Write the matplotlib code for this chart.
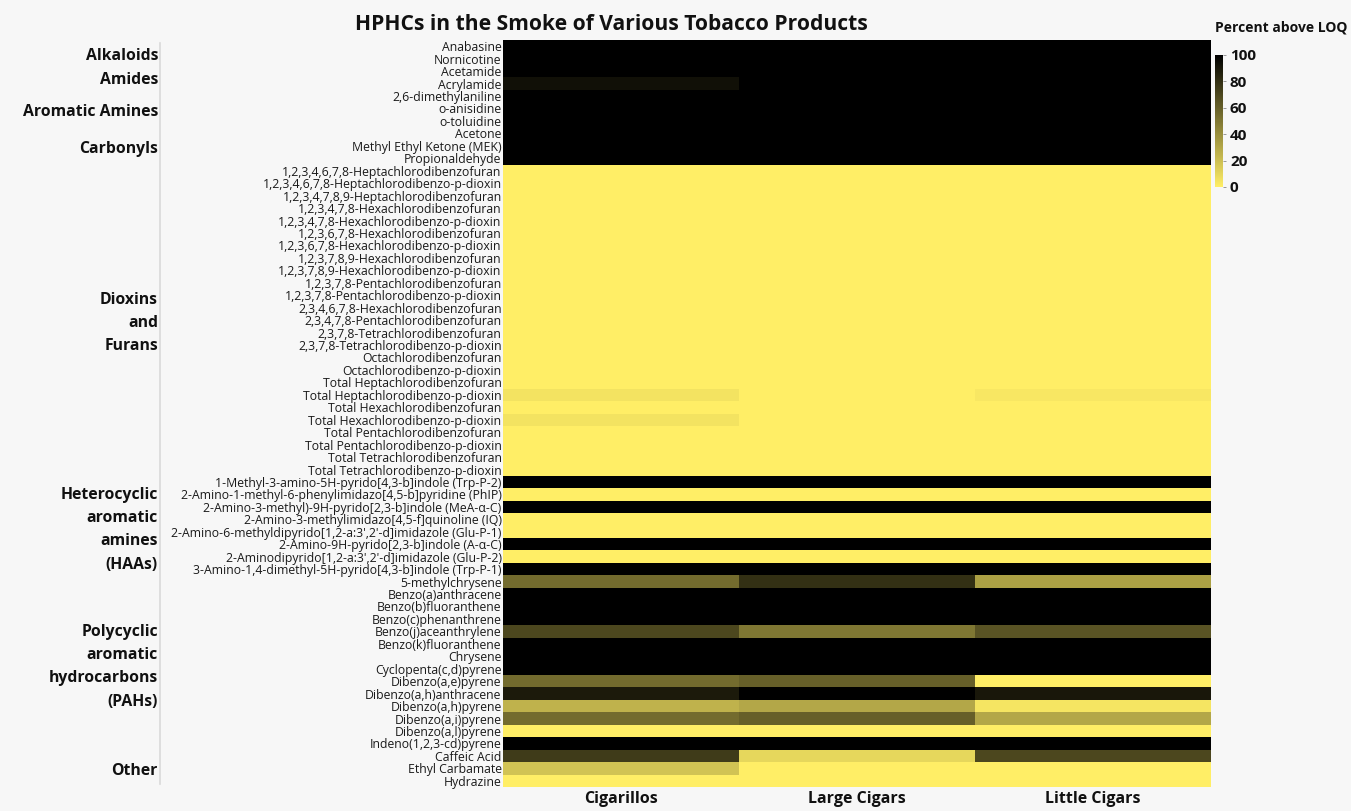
import numpy as np
import matplotlib
matplotlib.use("Agg")
import matplotlib.pyplot as plt
from matplotlib.colors import LinearSegmentedColormap

plt.rcParams['font.family'] = ['Open Sans', 'DejaVu Sans']

products = ["Cigarillos", "Large Cigars", "Little Cigars"]

groups = [
    ("Alkaloids", ["Anabasine", "Nornicotine"]),
    ("Amides", ["Acetamide", "Acrylamide"]),
    ("Aromatic Amines", ["2,6-dimethylaniline", "o-anisidine", "o-toluidine"]),
    ("Carbonyls", ["Acetone", "Methyl Ethyl Ketone (MEK)", "Propionaldehyde"]),
    ("Dioxins\nand\nFurans", [
        "1,2,3,4,6,7,8-Heptachlorodibenzofuran",
        "1,2,3,4,6,7,8-Heptachlorodibenzo-p-dioxin",
        "1,2,3,4,7,8,9-Heptachlorodibenzofuran",
        "1,2,3,4,7,8-Hexachlorodibenzofuran",
        "1,2,3,4,7,8-Hexachlorodibenzo-p-dioxin",
        "1,2,3,6,7,8-Hexachlorodibenzofuran",
        "1,2,3,6,7,8-Hexachlorodibenzo-p-dioxin",
        "1,2,3,7,8,9-Hexachlorodibenzofuran",
        "1,2,3,7,8,9-Hexachlorodibenzo-p-dioxin",
        "1,2,3,7,8-Pentachlorodibenzofuran",
        "1,2,3,7,8-Pentachlorodibenzo-p-dioxin",
        "2,3,4,6,7,8-Hexachlorodibenzofuran",
        "2,3,4,7,8-Pentachlorodibenzofuran",
        "2,3,7,8-Tetrachlorodibenzofuran",
        "2,3,7,8-Tetrachlorodibenzo-p-dioxin",
        "Octachlorodibenzofuran",
        "Octachlorodibenzo-p-dioxin",
        "Total Heptachlorodibenzofuran",
        "Total Heptachlorodibenzo-p-dioxin",
        "Total Hexachlorodibenzofuran",
        "Total Hexachlorodibenzo-p-dioxin",
        "Total Pentachlorodibenzofuran",
        "Total Pentachlorodibenzo-p-dioxin",
        "Total Tetrachlorodibenzofuran",
        "Total Tetrachlorodibenzo-p-dioxin",
    ]),
    ("Heterocyclic\naromatic\namines\n(HAAs)", [
        "1-Methyl-3-amino-5H-pyrido[4,3-b]indole (Trp-P-2)",
        "2-Amino-1-methyl-6-phenylimidazo[4,5-b]pyridine (PhIP)",
        "2-Amino-3-methyl)-9H-pyrido[2,3-b]indole (MeA-α-C)",
        "2-Amino-3-methylimidazo[4,5-f]quinoline (IQ)",
        "2-Amino-6-methyldipyrido[1,2-a:3',2'-d]imidazole (Glu-P-1)",
        "2-Amino-9H-pyrido[2,3-b]indole (A-α-C)",
        "2-Aminodipyrido[1,2-a:3',2'-d]imidazole (Glu-P-2)",
        "3-Amino-1,4-dimethyl-5H-pyrido[4,3-b]indole (Trp-P-1)",
    ]),
    ("Polycyclic\naromatic\nhydrocarbons\n(PAHs)", [
        "5-methylchrysene", "Benzo(a)anthracene", "Benzo(b)fluoranthene",
        "Benzo(c)phenanthrene", "Benzo(j)aceanthrylene", "Benzo(k)fluoranthene",
        "Chrysene", "Cyclopenta(c,d)pyrene", "Dibenzo(a,e)pyrene",
        "Dibenzo(a,h)anthracene", "Dibenzo(a,h)pyrene", "Dibenzo(a,i)pyrene",
        "Dibenzo(a,l)pyrene", "Indeno(1,2,3-cd)pyrene",
    ]),
    ("Other", ["Caffeic Acid", "Ethyl Carbamate", "Hydrazine"]),
]

# Percent of samples above LOQ: columns = Cigarillos, Large Cigars, Little Cigars
alkaloids = [[100, 100, 100], [100, 100, 100]]
amides = [[100, 100, 100], [93, 100, 100]]
aromatic_amines = [[100, 100, 100]] * 3
carbonyls = [[100, 100, 100]] * 3
dioxins = [[0, 0, 0] for _ in range(25)]
dioxins[18] = [5, 0, 3]   # Total Heptachlorodibenzo-p-dioxin
dioxins[20] = [5, 0, 0]   # Total Hexachlorodibenzo-p-dioxin
haas = [
    [100, 100, 100],
    [0, 0, 0],
    [100, 100, 100],
    [0, 0, 0],
    [0, 0, 0],
    [100, 100, 100],
    [0, 0, 0],
    [100, 100, 100],
]
pahs = [
    [55, 80, 33],
    [100, 100, 100],
    [100, 100, 100],
    [100, 100, 100],
    [70, 50, 65],
    [100, 100, 100],
    [100, 100, 100],
    [100, 100, 100],
    [55, 60, 0],
    [89, 100, 90],
    [25, 30, 4],
    [55, 60, 30],
    [0, 0, 0],
    [100, 100, 100],
]
other = [[75, 10, 70], [18, 0, 0], [0, 0, 0]]

values = np.array(alkaloids + amides + aromatic_amines + carbonyls
                  + dioxins + haas + pahs + other, dtype=float)
compounds = [c for _, names in groups for c in names]

W, H, DPI = 1351, 811, 100
fig = plt.figure(figsize=(W / DPI, H / DPI), dpi=DPI, facecolor="#f7f7f7")

def fx(px):
    return px / W

def fy(py):
    return 1 - py / H

cmap = LinearSegmentedColormap.from_list("loq", ["#ffee66", "#000000"])

ax = fig.add_axes([fx(503), fy(787), fx(1211 - 503), (787 - 40) / H])
ax.set_facecolor("#f7f7f7")
mesh = ax.pcolormesh(np.arange(len(products) + 1), np.arange(len(compounds) + 1),
                     values, cmap=cmap, vmin=0, vmax=100)
ax.set_ylim(len(compounds), 0)
ax.set_xlim(0, len(products))
ax.set_yticks(np.arange(len(compounds)) + 0.5)
ax.set_yticklabels(compounds, fontsize=8.8, color="#1a1a1a")
ax.set_xticks(np.arange(len(products)) + 0.5)
ax.set_xticklabels(products, fontsize=11.5, fontweight="bold", color="#111111")
ax.tick_params(axis="both", length=0)
ax.tick_params(axis="y", pad=1)
ax.tick_params(axis="x", pad=3)
for s in ax.spines.values():
    s.set_visible(False)

# group labels beside their rows
start = 0
for name, names in groups:
    n = len(names)
    nlines = name.count("\n") + 1
    mid = start + n / 2 + (0.34 if nlines > 3 else 0.25)
    ax.annotate(name, xy=(fx(158), mid), xycoords=("figure fraction", "data"),
                ha="right", va="center", fontsize=11.3, fontweight="bold",
                color="#111111", linespacing=1.6, annotation_clip=False)
    start += n

# thin separator between group labels and compound names
ax.annotate("", xy=(fx(160), 0), xytext=(fx(160), len(compounds)),
            xycoords=("figure fraction", "data"),
            textcoords=("figure fraction", "data"),
            arrowprops=dict(arrowstyle="-", color="#d9d9d9", lw=1.2),
            annotation_clip=False)

fig.text(fx(611), fy(25), "HPHCs in the Smoke of Various Tobacco Products",
         ha="center", va="center", fontsize=15.1, fontweight="bold", color="#111111")

cax = fig.add_axes([fx(1215), fy(187), fx(8), 132 / H])
cb = fig.colorbar(mesh, cax=cax, ticks=[0, 20, 40, 60, 80, 100])
cb.outline.set_visible(False)
cax.tick_params(length=2, width=0.6, color="#888888", pad=3, labelsize=11)
for t in cax.get_yticklabels():
    t.set_fontweight("bold")
    t.set_color("#111111")
fig.text(fx(1281), fy(27), "Percent above LOQ", ha="center", va="center",
         fontsize=10, fontweight="bold", color="#111111")

fig.savefig("out.png", dpi=DPI, facecolor=fig.get_facecolor())
